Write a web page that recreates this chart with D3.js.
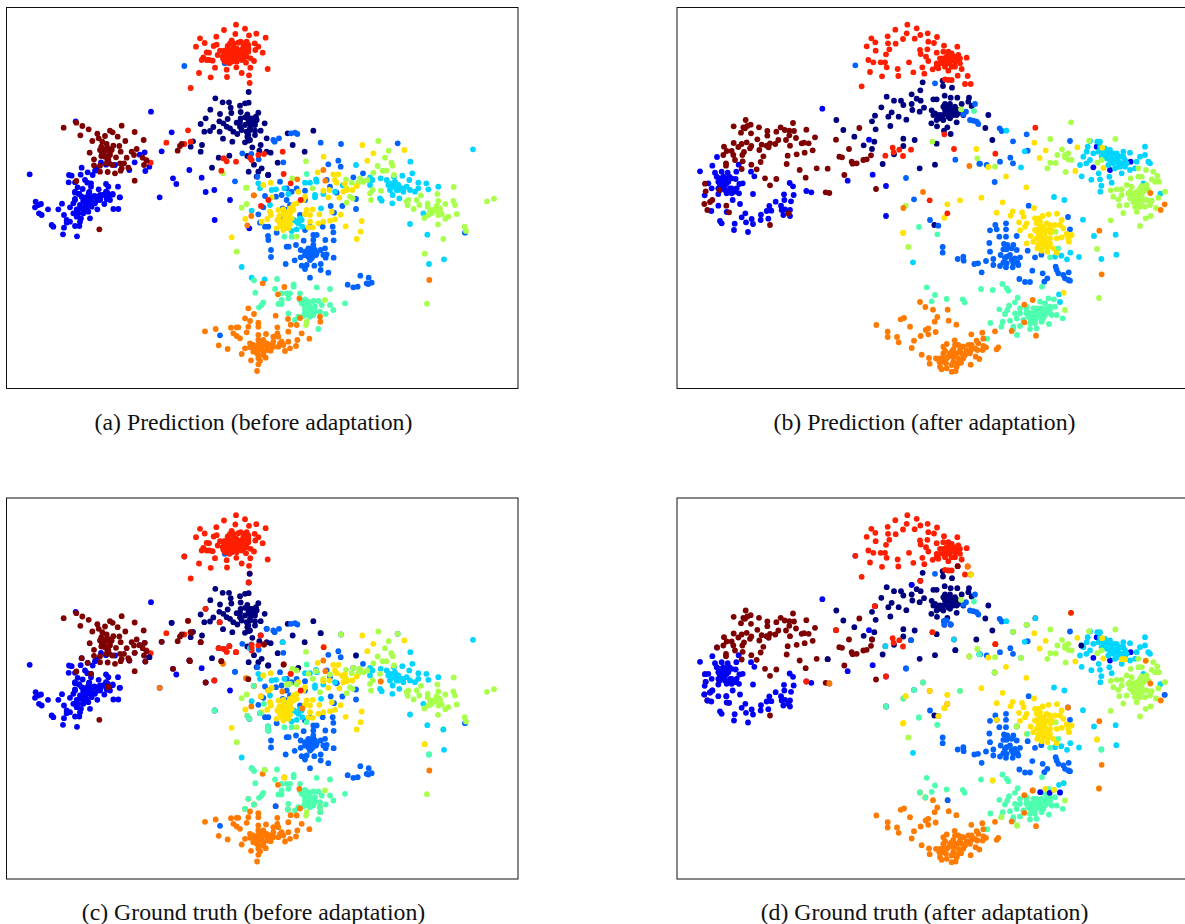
<!DOCTYPE html>
<html>
<head>
<meta charset="utf-8">
<script src="https://cdn.jsdelivr.net/npm/d3@7"></script>
<style>html,body{margin:0;padding:0;background:#fff;overflow:hidden}svg{display:block}</style>
</head>
<body>
<script>
const classNames = ["navy","blue","dodger","cyan","mint","lime","yellow","orange","red","maroon"];
const classColors = ["#00007f","#0000f6","#0063ff","#00d5ff","#4effb0","#aaff4d","#ffe200","#ff7a00","#ff1e00","#7f0000"];
const captions = ["(a) Prediction (before adaptation)","(b) Prediction (after adaptation)","(c) Ground truth (before adaptation)","(d) Ground truth (after adaptation)"];

// Before adaptation, predicted labels
const beforeNavy = [746,276,646,295,668,307,687,307,735,310,746,308,720,317,692,323,631,329,722,336,660,342,694,339,775,338,742,343,617,355,683,357,658,364,722,355,735,352,752,355,768,350,602,372,670,370,710,368,765,365,794,370,640,381,680,380,690,385,720,380,745,370,755,375,630,393,613,395,659,395,700,395,712,402,725,390,750,390,765,392,782,392,669,416,742,410,765,405,800,415,697,425,735,427,745,422,782,435,606,435,579,424,572,440,602,455,757,442,778,452,800,455,812,458,688,467,656,473,742,468,762,494,636,503,785,505,746,515,775,515,770,530,805,525,940,392,878,435,914,455,833,488,804,525,863,400,745,360,755,365,765,375,750,385,740,395,760,355,770,360,735,375,745,405,750,420,720,365];
const beforeBlue = [227,364,453,335,515,397,485,454,434,457,89,523,245,503,404,487,419,464,448,500,436,513,388,510,303,487,318,494,345,495,290,507,285,512,263,517,278,525,207,525,215,527,242,524,255,540,206,547,225,547,262,548,273,550,318,552,325,560,354,560,233,562,248,567,273,560,296,568,225,575,238,582,268,576,318,575,338,582,283,588,310,585,325,590,360,592,225,597,255,593,265,597,300,597,320,597,568,510,519,535,529,552,605,533,479,592,617,576,643,570,690,600,107,605,123,612,105,622,115,615,117,640,125,645,144,628,186,611,175,628,210,622,225,600,220,610,230,628,250,600,255,620,240,615,270,610,280,590,292,600,292,628,265,635,250,640,230,650,243,655,270,655,192,645,200,660,210,665,200,668,155,675,160,680,192,683,225,678,238,678,240,665,189,703,231,709,340,627,355,627,313,612,330,600,300,600,359,592,338,584,310,585,322,578,225,578,237,582,267,577,748,685,644,660,250,605,260,610,240,625,260,625,275,620,245,590,265,585,290,590,300,585,285,610,250,630,235,640,275,600,220,640,300,590,320,590];
const beforeDodger = [674,190,553,198,727,460,754,462,776,478,772,530,795,588,705,544,824,425,837,415,820,420,873,400,885,398,892,402,962,428,1023,432,850,487,985,493,1015,482,1022,500,1193,430,840,545,860,565,915,572,990,560,980,540,1060,532,1089,520,828,590,845,585,860,600,875,575,890,565,915,600,1010,578,1027,618,992,618,1068,627,1002,638,1068,597,775,643,790,622,780,668,795,680,805,680,830,698,850,650,860,630,870,615,848,625,900,645,915,690,930,680,968,680,998,680,1000,697,940,705,950,705,804,708,805,720,911,722,940,720,976,720,1001,721,860,740,866,740,888,735,813,750,813,771,940,735,935,745,920,755,930,760,942,755,950,760,902,750,915,765,925,770,938,770,948,765,962,750,975,745,970,765,980,763,977,773,1001,773,902,772,884,781,930,780,857,792,905,797,920,795,915,807,943,797,962,792,962,810,985,818,930,833,1043,854,1060,862,1073,860,1081,827,1106,833,1100,850,1115,848,1105,852,660,1006,1395,698,925,745,935,755,945,765,925,760,915,755,930,770,940,745,935,775,945,750,920,765];
const beforeCyan = [1419,448,1231,485,1068,495,1237,520,1207,527,1182,530,1110,532,1117,540,1142,535,1160,540,1170,550,1185,545,1195,555,1180,560,1205,565,1220,560,1170,570,1190,570,1210,575,1230,570,1255,548,1279,550,1228,540,1285,568,1315,560,1255,565,1245,575,1178,585,1198,595,1177,610,1140,595,1145,602,1230,672,1282,704,1270,640,1332,778,1287,792,725,801,755,833,794,838,915,548,930,548,948,538,950,545,815,570,828,568,853,565,865,582,945,585,945,592,970,582,1005,575,775,550,780,565,810,615,755,632,963,625,900,655,905,660,890,665,895,670,882,660,890,688,875,693,907,680,1028,556,1110,555,1165,555,1185,555,1175,560,1190,560,1200,565,1180,550,1195,570,1210,565];
const beforeMint = [920,522,831,837,762,841,881,853,881,860,950,862,990,867,825,867,766,878,870,880,860,880,845,880,865,895,900,880,1035,910,790,907,785,915,777,922,845,900,835,912,845,912,900,900,915,898,910,912,925,905,940,903,955,903,930,918,945,920,965,915,990,915,1000,930,915,930,930,935,945,935,977,942,960,935,865,940,910,948,930,950,895,950,885,960,955,987,853,710,875,710,915,920,925,925,920,935,935,925,915,940,905,910,925,945,940,945];
const beforeLime = [1135,423,1166,452,1155,473,1174,488,1178,497,1133,498,918,484,1148,512,1160,512,1182,525,1120,518,1038,538,1080,535,1075,548,1090,545,1102,540,1055,548,1040,565,1118,570,1143,572,1110,580,1050,590,1058,595,1040,608,1113,600,1225,600,1220,605,1223,616,1250,600,1263,586,1258,615,1241,627,1312,582,1361,561,1283,610,1283,620,1315,603,1336,612,1360,603,1365,615,1310,618,1305,632,1295,640,1285,645,1273,654,1320,635,1315,645,1325,642,1345,650,1336,656,1370,642,1314,673,1394,680,1398,693,1461,604,1482,596,1330,717,1274,761,1281,911,710,755,725,623,740,612,920,965,918,975,975,900,890,710,938,565,740,563,877,535,669,520,738,563,1310,625,1320,625,1300,630,1290,630,1315,630];
const beforeYellow = [1087,435,1120,460,1213,450,1102,482,971,470,953,517,1000,523,1015,523,1005,540,1010,548,812,548,790,555,1035,552,1040,570,1057,570,1070,558,1030,575,1018,593,970,572,988,570,985,592,915,590,910,600,895,575,815,592,890,610,880,615,870,625,865,635,855,645,920,630,938,628,915,643,930,645,958,643,995,635,810,635,813,645,835,630,850,628,838,648,802,657,785,665,832,660,870,672,855,670,845,678,830,685,865,685,930,665,925,682,938,682,955,670,970,665,990,662,1005,658,1022,644,1037,679,1085,663,1082,695,1070,717,695,712,736,657,850,640,860,650,870,640,880,630,845,665,855,655,865,660,875,655,840,670,860,680,850,690];
const beforeOrange = [761,586,970,510,976,542,892,538,762,586,754,648,742,676,1288,840,788,850,853,861,834,883,898,895,745,925,762,942,735,955,827,947,864,957,900,954,960,950,961,965,750,963,775,968,775,980,745,980,872,974,890,975,615,994,647,987,693,983,710,982,715,982,740,997,700,1000,710,1008,720,1015,832,982,832,1000,865,995,905,1000,928,1016,775,1005,798,1002,775,1020,820,1010,835,1010,845,1025,865,1025,892,1020,820,1025,750,1030,775,1035,795,1035,810,1035,656,1036,735,1045,750,1042,765,1045,785,1048,802,1050,812,1052,835,1040,855,1053,870,1045,888,1038,683,1047,725,1062,775,1065,797,1073,753,1081,780,1082,775,1093,771,1113,790,1020,800,1030,785,1040,770,1050,790,1055,805,1040,780,1025,760,1035,820,1040,840,1030,850,1035,775,1050,760,1055,790,1065,775,1075,770,1060];
const beforeRed = [708,74,735,86,672,90,600,115,649,110,706,102,747,106,769,101,797,113,695,121,614,129,588,140,641,138,650,134,683,138,700,130,722,125,740,125,764,130,775,140,766,150,788,158,660,152,672,152,620,157,627,158,653,165,610,172,605,180,620,180,628,180,638,182,668,170,680,160,695,150,710,145,730,140,745,135,690,165,705,160,720,155,735,160,700,175,715,170,730,175,740,170,685,180,670,178,695,185,688,190,710,185,725,180,762,183,738,188,752,175,645,203,680,209,709,202,751,203,597,219,725,219,803,207,632,232,681,231,747,226,749,249,572,264,439,480,452,488,553,432,572,425,564,391,499,428,672,475,680,484,708,485,664,512,792,462,848,455,851,522,872,550,805,600,783,618,902,600,670,475,750,473,755,480,775,465,690,130,700,140,715,128,730,130,738,145,725,150,710,155,695,160,680,150,672,165,685,170,700,165,715,162,730,165,745,155,745,145,705,178,720,170,690,178,675,185];
const beforeMaroon = [191,383,229,368,247,378,266,388,241,406,330,392,338,397,365,377,404,396,292,401,315,408,296,415,353,410,277,423,307,425,376,423,431,420,320,432,304,440,325,445,340,437,358,438,300,450,315,452,362,455,330,455,269,458,395,455,410,447,402,465,325,468,304,468,348,472,380,473,282,478,322,480,428,473,440,482,328,490,300,497,282,496,337,495,360,490,372,490,365,505,385,503,432,495,300,515,323,516,345,520,362,512,229,543,404,542,533,452,540,438,545,432,298,688,320,445,330,465,315,470,325,480,310,460,335,450,305,455,320,490];

// Before adaptation, points whose true label differs from the prediction
const truthBeforeNavy = [515,397,749,250,448,500,1068,495,962,428,895,532];
const truthBeforeBlue = [];
const truthBeforeDodger = [800,415,705,544,827,947];
const truthBeforeCyan = [848,455,1330,717,750,473];
const truthBeforeMint = [761,586,644,660,1287,792,920,695,742,676,748,685,804,708,805,720,755,833,762,841,745,925,735,955,762,942,864,957,960,950,961,965,780,668,792,640];
const truthBeforeLime = [1023,432,1193,430,960,605,877,535,890,540,925,550,948,542,860,582,890,582,870,580,970,565,990,552,1060,532,1077,535,1140,550,794,838];
const truthBeforeYellow = [790,555,1274,761,853,861,970,570,1035,565,1040,572,1025,555,805,600,783,618,860,640,870,650,890,625,855,660,845,660,860,660];
const truthBeforeOrange = [669,520,738,563,479,592,847,603,907,654,1142,573];
const truthBeforeRed = [553,198,616,355,659,395,656,473,688,467,708,485,643,570,782,435,755,463,755,472,746,276,680,484,971,470,872,550];
const truthBeforeMaroon = [485,454,564,391,572,425,602,455,568,510,519,535,617,576,664,512,745,566,792,462,404,487,436,513,388,510,419,464,434,457,245,503,263,517,273,550,325,590,851,522,575,427,570,512,324,588];

// After adaptation, predicted labels
const afterNavy = [758,247,818,242,819,258,846,263,751,271,650,290,672,302,693,302,725,283,740,296,752,302,790,298,800,298,824,287,842,293,862,293,897,293,725,312,700,315,634,322,727,330,749,335,762,323,825,312,840,312,875,312,895,305,785,331,905,318,615,347,655,350,665,337,686,350,709,359,795,340,810,345,830,325,850,325,865,330,860,345,880,345,800,360,820,360,835,350,845,340,606,364,617,388,661,378,784,370,801,379,832,382,822,392,860,367,842,402,499,360,520,390,553,410,581,436,613,425,700,416,734,420,700,438,606,447,800,431,672,463,638,492,795,494,749,505,793,675,955,345,946,384,967,420,820,320,830,335,845,330,855,335,865,340,820,345,810,355,800,345,790,345,850,345,840,355,825,330,835,320,855,320];
const afterBlue = [457,326,597,419,608,524,533,542,648,558,648,648,90,514,141,471,127,497,206,494,199,515,243,515,253,529,135,518,155,515,173,518,140,530,178,530,115,550,125,565,104,586,150,535,160,545,150,555,170,550,185,535,197,537,208,552,218,550,145,565,165,570,180,565,200,565,145,582,170,580,185,580,207,580,188,600,249,582,359,549,369,559,342,583,371,585,343,600,363,604,317,605,409,573,424,577,210,612,145,617,170,636,124,633,226,640,298,618,290,633,304,632,333,617,335,630,345,628,360,630,340,645,360,648,215,652,245,657,228,667,249,672,273,644,272,660,295,656,150,663,155,670,194,671,192,690,234,696,1270,502,1320,510,1382,485,1280,440,155,545,165,555,175,545,150,548,160,530,145,545,170,535,185,565,175,575,195,575,160,562,150,570];
const afterDodger = [795,250,556,196,708,534,732,598,780,660,805,677,856,479,928,491,888,335,880,343,915,312,900,360,910,362,920,365,925,372,989,385,995,393,1070,403,1029,424,1073,452,1021,473,990,485,1029,490,1200,423,950,495,930,491,974,546,1076,617,1194,651,1200,688,1008,670,976,675,980,688,960,691,1008,688,988,710,1008,710,958,729,960,755,1040,708,1002,732,1012,735,1030,735,1000,748,1040,750,992,765,1010,770,1050,772,1042,787,970,777,1025,780,1000,788,970,795,990,798,1008,802,1028,802,1045,795,948,783,924,790,913,792,935,817,818,741,818,758,863,777,880,770,881,782,1073,752,1095,772,1114,764,1087,812,1118,820,1132,835,1123,845,1048,837,1065,846,1080,846,1157,800,1160,810,1165,820,1180,825,1196,817,1185,835,1195,840,1200,842,1010,748,1025,745,1020,765,1005,775,1035,775,1030,790,1010,790];
const afterCyan = [1009,392,1064,454,1053,502,1152,591,1183,600,1239,659,1272,708,1337,704,1339,764,1294,777,1201,758,1227,771,1191,778,1174,767,1155,770,729,787,1170,906,1167,883,1235,529,1264,539,1286,520,1290,538,1294,557,1291,575,1318,530,1325,548,1230,495,1249,490,1260,480,1240,470,1250,455,1253,440,1260,423,1282,425,1290,425,1270,460,1285,455,1300,455,1315,460,1295,470,1310,475,1325,465,1340,460,1330,480,1345,485,1360,455,1380,458,1365,480,1350,500,1365,500,1335,505,1315,495,1355,520,1380,510,1395,505,1410,470,1425,440,1425,465,1435,485,1440,490,1400,485,1420,550,1471,581,1300,470,1310,455,1320,450,1330,460,1340,475,1350,470,1355,490,1345,500,1330,490,1320,480,1305,445,1290,440,1360,470,1370,490];
const afterMint = [912,333,747,681,802,703,1165,745,1140,772,770,862,795,885,785,904,830,897,878,898,884,907,933,867,968,870,997,852,1010,865,1015,872,1116,860,1043,893,1035,907,1017,917,988,928,1012,930,1005,942,1050,925,1035,940,1050,940,1070,920,1090,925,1110,905,1135,895,1152,898,1125,910,1115,925,1140,920,1155,920,1070,940,1090,940,1110,940,1130,940,1145,945,1160,945,1178,955,1020,962,1040,955,1060,960,1080,955,1100,955,1120,955,998,965,961,969,994,980,1030,980,1050,978,1080,970,1095,970,1115,965,1137,972,1030,988,1080,987,1100,985,1041,1005,952,1016,1070,930,1080,940,1090,950,1100,945,1110,935,1120,930,1130,925,1100,925,1085,960,1075,950,1095,930,1115,950,1125,945,1140,930];
const afterLime = [873,328,787,425,707,617,922,475,1203,367,1141,417,1257,422,1336,417,1176,448,1162,465,1185,465,1195,460,1185,472,1195,478,1205,480,1141,488,1157,489,1132,505,1187,516,1282,488,1295,480,975,500,1157,695,1322,661,1281,747,1287,894,1185,930,1410,678,1322,571,1340,568,1355,568,1370,555,1385,560,1382,535,1405,530,1415,530,1428,510,1450,515,1462,528,1445,538,1467,545,1455,545,1405,505,1415,558,1430,555,1400,575,1420,575,1375,580,1355,585,1330,590,1345,598,1380,595,1395,592,1415,590,1485,575,1465,593,1348,617,1370,615,1390,605,1405,605,1430,600,1445,602,1395,620,1410,620,1425,620,1440,615,1458,624,1400,635,1360,639,1442,648,1427,655,715,741,1390,580,1400,590,1410,600,1395,605,1385,590,1405,580,1420,565,1415,605,1400,615,1380,575,1410,565,1435,570];
const afterYellow = [919,447,870,601,832,613,823,653,700,698,1093,428,1127,451,1109,474,1222,442,1297,443,1216,513,1300,504,955,501,1008,529,1069,562,934,593,998,607,980,638,1028,634,1022,647,1056,637,1061,650,1092,624,1047,667,1070,670,1065,680,1050,691,1095,655,1118,648,1136,643,1161,641,1100,670,1110,680,1130,670,1140,675,1175,660,1170,675,1155,675,1180,685,1095,690,1110,700,1125,695,1142,698,1082,708,1100,715,1120,715,1090,725,1070,730,1110,725,1140,715,1160,715,1175,712,1190,702,1205,705,1195,715,1197,725,1102,745,1120,740,1135,740,1115,752,1132,755,1150,745,1160,758,699,699,1181,878,1105,655,1110,665,1120,680,1130,690,1115,695,1125,710,1105,700,1135,725,1120,725,1105,735,1125,730,1140,730,1115,710,1100,690,1145,690];
const afterOrange = [898,498,759,576,700,624,1288,692,1295,823,1063,914,1088,900,1441,579,1484,613,1472,630,750,906,766,921,789,929,833,929,802,951,794,965,836,962,692,958,702,954,859,974,619,975,720,980,775,985,767,990,797,996,653,995,653,1011,681,1011,686,1027,752,1008,775,1003,732,1022,725,1044,904,1003,937,998,975,994,1025,993,1063,967,1098,1007,940,1016,854,1021,920,1022,925,1030,830,1032,820,1040,865,1035,880,1040,895,1035,940,1038,948,1042,985,1042,980,1048,825,1052,850,1048,870,1050,890,1052,905,1048,922,1050,938,1050,820,1060,900,1060,755,1064,850,1070,865,1075,880,1075,917,1070,928,1077,777,1074,798,1075,820,1072,779,1091,808,1085,810,1100,828,1090,845,1095,873,1088,902,1094,815,1108,830,1105,845,1115,857,1113,840,1060,860,1060,875,1060,885,1065,850,1085,865,1090,855,1035,845,1055,835,1070,820,1085,830,1075,810,1075,860,1100,875,1040,905,1035,915,1045];
const afterRed = [712,74,740,85,676,89,604,115,653,109,710,100,751,105,773,100,801,111,699,117,734,116,616,127,590,139,654,130,677,131,775,125,792,129,822,137,862,140,658,148,617,152,750,150,772,148,752,162,800,158,820,155,835,155,865,165,648,163,768,170,775,183,830,170,810,175,850,170,890,173,595,180,610,187,632,187,645,187,717,187,800,190,820,190,840,185,860,180,870,190,650,202,683,207,757,202,788,208,805,205,835,212,855,200,875,207,600,216,730,217,763,221,636,229,685,228,863,227,893,228,825,238,835,240,845,240,885,252,902,252,575,259,823,403,852,447,668,443,671,457,688,449,723,449,646,467,699,468,779,601,832,640,1096,383,976,461,840,165,850,180,830,180,820,175,835,190,855,185,825,200,845,200,810,190,800,200,845,160,860,170,870,175,835,175];
const afterMaroon = [227,360,191,379,242,374,220,382,232,378,267,382,225,385,213,398,243,400,292,393,332,382,344,390,358,392,369,369,372,393,409,389,319,395,292,407,358,406,262,418,378,414,435,412,348,420,325,420,191,429,215,432,230,427,244,438,275,434,205,441,162,440,240,445,290,437,300,430,316,432,360,437,395,430,402,428,416,430,296,442,268,450,170,453,185,453,160,465,190,465,222,456,217,465,353,467,380,463,404,458,428,451,280,469,195,480,218,484,272,486,168,490,168,497,244,494,350,492,215,507,260,508,389,510,440,505,473,506,285,535,319,537,407,533,300,556,105,551,107,574,148,570,127,600,120,606,103,612,112,630,169,617,177,637,355,640,300,675,467,577,478,579,523,525,618,567,568,384,498,419,537,447,508,470,516,472,545,485,548,491,560,490,580,480,590,478,603,466];

// After adaptation, points whose true label differs from the prediction
const truthAfterNavy = [473,506,919,447,856,479,1234,465];
const truthAfterBlue = [105,551,107,574,127,600,120,606,103,612,112,630,169,617,177,637,355,640,148,570,725,283,1111,905,1139,907,1170,906];
const truthAfterDodger = [708,534,723,449,823,403,830,390,842,402,822,392,833,929,1484,613];
const truthAfterCyan = [646,467,852,447,1096,383,1181,878];
const truthAfterMint = [759,576,732,598,700,624,648,648,870,601,747,681,802,703,928,491,1294,777,1072,730,750,906,766,921];
const truthAfterLime = [922,475,898,498,1070,403,1029,424,974,546,1053,502,1040,708,994,980,1041,1005];
const truthAfterYellow = [902,252,707,617,805,677,779,601,832,613,823,653,832,640,700,698,980,688,968,870,1126,895,1152,898,1355,506,1365,506,1360,506,1281,747];
const truthAfterOrange = [893,228,478,579,1194,651,1427,511,1088,900,1287,894];
const truthAfterRed = [556,196,498,419,614,347,751,271,409,573,648,558,787,425,1203,367,976,461];
const truthAfterMaroon = [863,227,141,471,606,447];

const beforeSets = [beforeNavy,beforeBlue,beforeDodger,beforeCyan,beforeMint,beforeLime,beforeYellow,beforeOrange,beforeRed,beforeMaroon];
const afterSets = [afterNavy,afterBlue,afterDodger,afterCyan,afterMint,afterLime,afterYellow,afterOrange,afterRed,afterMaroon];
const truthBeforeSets = [truthBeforeNavy,truthBeforeBlue,truthBeforeDodger,truthBeforeCyan,truthBeforeMint,truthBeforeLime,truthBeforeYellow,truthBeforeOrange,truthBeforeRed,truthBeforeMaroon];
const truthAfterSets = [truthAfterNavy,truthAfterBlue,truthAfterDodger,truthAfterCyan,truthAfterMint,truthAfterLime,truthAfterYellow,truthAfterOrange,truthAfterRed,truthAfterMaroon];

const W = 1185, H = 924;
const svg = d3.select("body").append("svg").attr("width",W).attr("height",H);
const color = d3.scaleOrdinal(classNames, classColors);

const toPoints = (flat, cls) => d3.range(0, flat.length, 2).map(i => ({x:flat[i], y:flat[i+1], cls}));
const collect = sets => sets.flatMap((s,i) => toPoints(s, classNames[i]));

const panels = [
  {left:6.5,  right:518,  top:7.5,  bottom:388.5, dx:[19.5,1554], dy:[22.5,1165.5], pts:collect(beforeSets), caption:captions[0], cx:253.5, cy:429.5},
  {left:677,  right:1190, top:7.5,  bottom:388.5, dx:[21,1560],   dy:[22.5,1165.5], pts:collect(afterSets), caption:captions[1], cx:924.5, cy:429.5},
  {left:6.5,  right:518,  top:498,  bottom:879,   dx:[19.5,1554], dy:[22.5,1165.5], pts:collect(beforeSets).concat(collect(truthBeforeSets)), caption:captions[2], cx:253.5, cy:919.5},
  {left:677,  right:1190, top:498,  bottom:879,   dx:[21,1560],   dy:[22.5,1165.5], pts:collect(afterSets).concat(collect(truthAfterSets)), caption:captions[3], cx:924.5, cy:919.5}
];

panels.forEach(p => {
  const x = d3.scaleLinear().domain(p.dx).range([p.left,p.right]);
  const y = d3.scaleLinear().domain(p.dy).range([p.top,p.bottom]);
  const g = svg.append("g");
  g.selectAll("circle").data(p.pts).join("circle")
    .attr("cx",d=>x(d.x)).attr("cy",d=>y(d.y)).attr("r",2.9)
    .attr("fill",d=>color(d.cls));
  g.append("rect").attr("x",p.left).attr("y",p.top)
    .attr("width",p.right-p.left).attr("height",p.bottom-p.top)
    .attr("fill","none").attr("stroke","#111").attr("stroke-width",1);
  svg.append("text").attr("x",p.cx).attr("y",p.cy).attr("text-anchor","middle")
    .attr("font-family","'Liberation Serif','Times New Roman',serif").attr("font-size",23.8).attr("fill","#111")
    .text(p.caption);
});
</script>
</body>
</html>
